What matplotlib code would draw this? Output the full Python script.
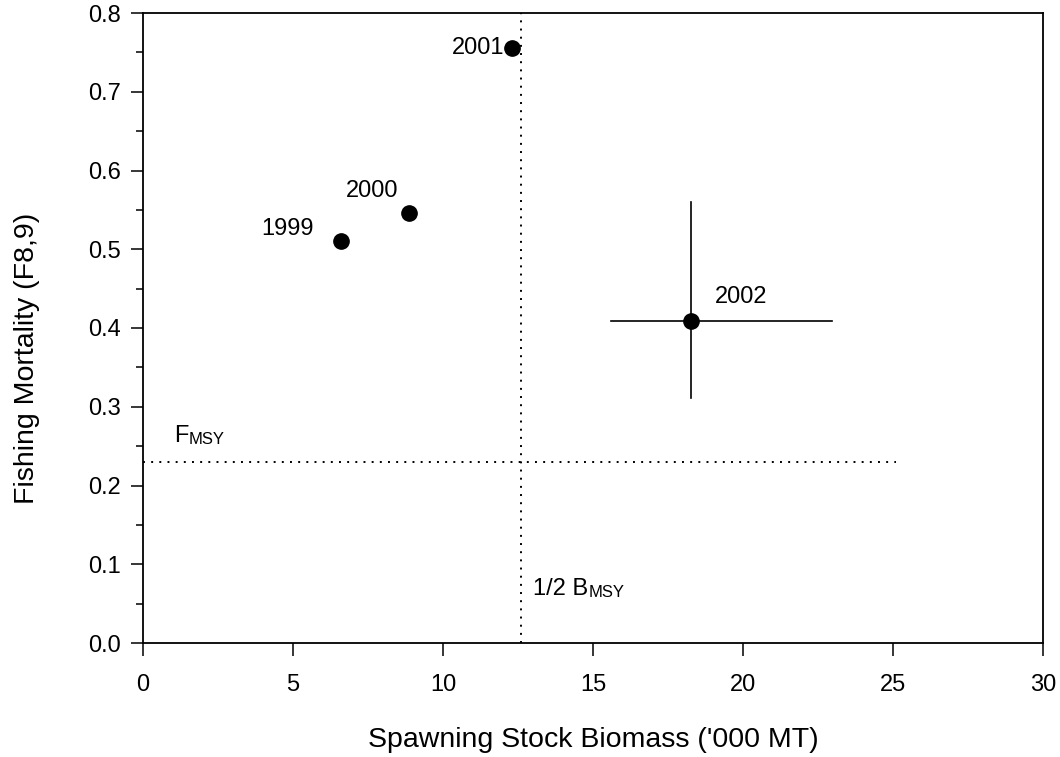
import matplotlib
matplotlib.use("Agg")
import matplotlib.pyplot as plt

plt.rcParams['font.family'] = ['Liberation Sans', 'DejaVu Sans']

# data
years = ['1999', '2000', '2001', '2002']
ssb = [6.6, 8.87, 12.3, 18.27]
fmort = [0.51, 0.546, 0.756, 0.409]
# 2002 only has error bars
err_x_lo, err_x_hi = 15.6, 22.97
err_y_lo, err_y_hi = 0.311, 0.56
label_pos = [(4.83, 0.526), (7.63, 0.574), (11.18, 0.756), (19.93, 0.439)]
f_msy = 0.23
half_b_msy = 12.6

fig = plt.figure(figsize=(10.6, 7.57), dpi=100)
ax = fig.add_axes([143 / 1060, 114 / 757, 900 / 1060, 630 / 757])

# reference lines
dot = (0, (1, 3.2))
ax.plot([0, 25.1], [f_msy, f_msy], color='black', lw=1.4, linestyle=dot)
ax.plot([half_b_msy, half_b_msy], [0, 0.8], color='black', lw=1.4, linestyle=dot)

# error bars for 2002
ax.plot([err_x_lo, err_x_hi], [fmort[3], fmort[3]], color='black', lw=1.2)
ax.plot([ssb[3], ssb[3]], [err_y_lo, err_y_hi], color='black', lw=1.2)

ax.plot(ssb, fmort, 'o', color='black', markersize=11, linestyle='none', zorder=5)

for yr, (lx, ly) in zip(years, label_pos):
    ax.text(lx, ly, yr, fontsize=17, ha='center', va='center')

# F_MSY and 1/2 B_MSY labels, subscript small and on the baseline
t = ax.text(1.03, 0.249, 'F', fontsize=17, ha='left', va='bottom')
ax.annotate('MSY', xy=(1, 0), xycoords=t, xytext=(0.5, 0),
            textcoords='offset points', fontsize=12, ha='left', va='bottom')
t2 = ax.text(13.0, 0.055, '1/2 B', fontsize=17, ha='left', va='bottom')
ax.annotate('MSY', xy=(1, 0), xycoords=t2, xytext=(0.5, 0),
            textcoords='offset points', fontsize=12, ha='left', va='bottom')

ax.set_xlim(0, 30)
ax.set_ylim(0, 0.8)
ax.set_xticks([0, 5, 10, 15, 20, 25, 30])
ax.set_yticks([0.0, 0.1, 0.2, 0.3, 0.4, 0.5, 0.6, 0.7, 0.8])
ax.set_yticklabels(['%.1f' % v for v in ax.get_yticks()])
ax.set_yticks([0.05, 0.15, 0.25, 0.35, 0.45, 0.55, 0.65, 0.75], minor=True)
ax.tick_params(axis='both', which='major', direction='out', length=9, width=1.1,
               labelsize=17, pad=7)
ax.tick_params(axis='x', which='major', pad=13.5)
ax.tick_params(axis='y', which='minor', direction='out', length=5, width=1.1)
for s in ax.spines.values():
    s.set_linewidth(1.3)

ax.set_xlabel("Spawning Stock Biomass ('000 MT)", fontsize=20.5)
ax.set_ylabel('Fishing Mortality (F8,9)', fontsize=20.5)
ax.xaxis.set_label_coords(0.5, -0.133)
ax.yaxis.set_label_coords(-0.1144, 0.452)

fig.savefig('out.png', dpi=100)
